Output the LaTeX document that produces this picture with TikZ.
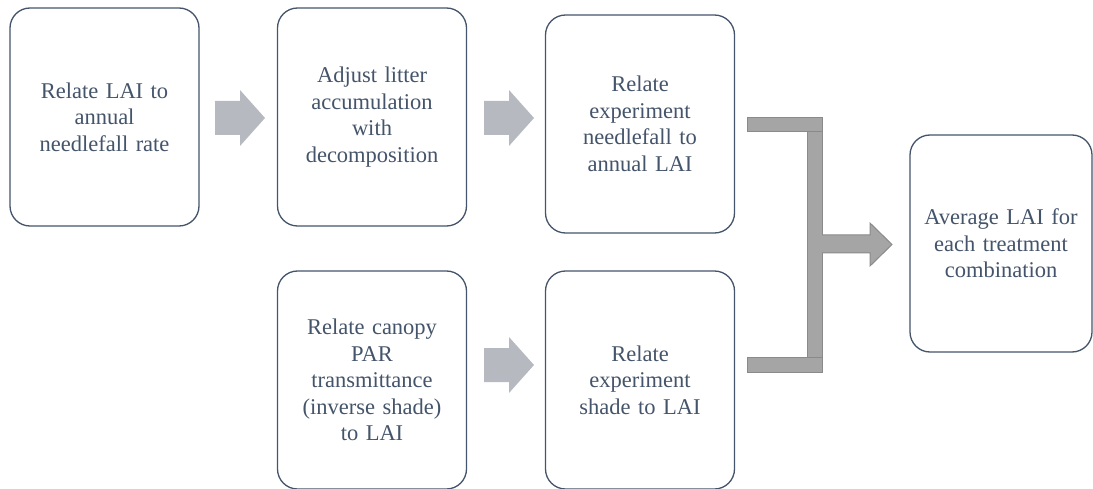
\documentclass[tikz,border=0pt]{standalone}
\usepackage{fontspec}
\setmainfont{Liberation Serif}
\newfontfamily\boxfont{Liberation Serif}
\usetikzlibrary{calc}
\definecolor{boxline}{HTML}{44546A}
\definecolor{txt}{HTML}{44546A}
\definecolor{lightarrow}{HTML}{B6B9BF}
\definecolor{darkfill}{HTML}{A5A5A5}
\definecolor{darkline}{HTML}{8A8A8A}
\begin{document}
\begin{tikzpicture}[x=1pt,y=-1pt,
  stepbox/.style={draw=boxline,line width=1.3pt,rounded corners=20pt,fill=white,
    minimum width=189pt,minimum height=218pt,text width=175pt,align=center,
    text=txt,font=\boxfont\fontsize{22.5}{26.5}\selectfont,inner sep=0pt},
  bar/.style={fill=darkfill,draw=darkline,line width=1pt}]
\useasboundingbox (0,0) rectangle (1093,489);
\node[stepbox] (b1) at (104.5,117) {Relate LAI to\\annual\\needlefall rate};
\node[stepbox] (b2) at (372,117) {Adjust litter\\accumulation\\with\\decomposition};
\node[stepbox] (b3) at (640,124) {Relate\\experiment\\needlefall to\\annual LAI};
\node[stepbox] (b4) at (372,380) {Relate canopy\\PAR\\transmittance\\(inverse shade)\\to LAI};
\node[stepbox] (b5) at (640,380) {Relate\\experiment\\shade to LAI};
\node[stepbox,minimum width=182pt,minimum height=217pt,text width=175pt] (b6) at (1001,243.5) {Average LAI for\\each treatment\\combination};
% light block arrows
\foreach \cx/\cy in {240/118, 509/118, 509/365}{
  \fill[lightarrow] (\cx-25,\cy-17) -- (\cx,\cy-17) -- (\cx,\cy-28) -- (\cx+25,\cy) -- (\cx,\cy+28) -- (\cx,\cy+17) -- (\cx-25,\cy+17) -- cycle;
}
% bracket
\draw[bar] (807,132) rectangle (822,357);
\draw[bar] (747,118) rectangle (822,132);
\draw[bar] (747,357) rectangle (822,372);
\draw[bar] (822,235) -- (870,235) -- (870,223) -- (892,244.5) -- (870,266) -- (870,253) -- (822,253);
\end{tikzpicture}
\end{document}
